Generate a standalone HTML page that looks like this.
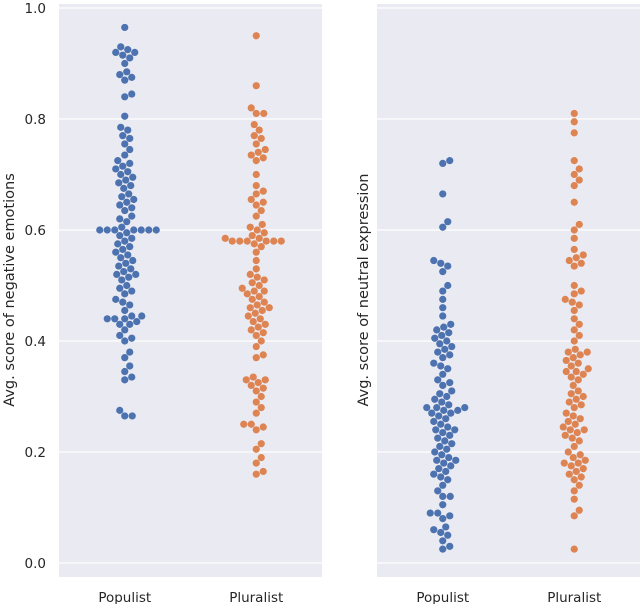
<!DOCTYPE html>
<html><head><meta charset="utf-8"><style>
body{margin:0;background:#fff;font-family:"Liberation Sans","DejaVu Sans",sans-serif}
svg text{font-family:"DejaVu Sans","Liberation Sans",sans-serif;fill:#262626}
</style></head><body>
<svg id="chart" width="640" height="604">
<g id="g"></g>
</svg>
<script>
const categories=["Populist","Pluralist"];
const yTicks=[0.0,0.2,0.4,0.6,0.8,1.0];
const negPopulist=[0.965,0.93,0.925,0.92,0.92,0.915,0.91,0.90,0.88,0.885,0.87,0.875,0.845,0.84,0.805,0.785,0.78,0.77,0.765,0.755,0.745,0.735,0.725,0.72,0.715,0.71,0.705,0.70,0.695,0.69,0.685,0.68,0.675,0.665,0.66,0.655,0.65,0.645,0.64,0.635,0.625,0.62,0.615,0.605,0.60,0.60,0.60,0.60,0.60,0.60,0.60,0.595,0.59,0.585,0.58,0.575,0.57,0.565,0.56,0.555,0.55,0.545,0.54,0.535,0.53,0.525,0.52,0.52,0.515,0.51,0.50,0.495,0.49,0.485,0.475,0.47,0.465,0.455,0.445,0.445,0.44,0.44,0.44,0.435,0.43,0.43,0.42,0.41,0.405,0.40,0.38,0.37,0.355,0.345,0.335,0.33,0.275,0.265,0.265];
const negPluralist=[0.95,0.86,0.82,0.81,0.81,0.79,0.78,0.77,0.765,0.755,0.745,0.74,0.735,0.73,0.725,0.70,0.68,0.67,0.665,0.655,0.65,0.645,0.635,0.625,0.61,0.605,0.60,0.595,0.59,0.585,0.585,0.58,0.58,0.58,0.58,0.58,0.58,0.575,0.57,0.56,0.545,0.53,0.52,0.515,0.51,0.505,0.50,0.495,0.49,0.49,0.485,0.48,0.475,0.47,0.465,0.46,0.46,0.455,0.45,0.445,0.44,0.435,0.43,0.425,0.42,0.415,0.41,0.40,0.39,0.375,0.37,0.335,0.33,0.33,0.325,0.32,0.315,0.31,0.30,0.29,0.28,0.27,0.25,0.25,0.245,0.24,0.215,0.205,0.19,0.18,0.165,0.16];
const neuPopulist=[0.725,0.72,0.665,0.615,0.605,0.545,0.54,0.535,0.525,0.5,0.49,0.475,0.46,0.445,0.43,0.425,0.42,0.415,0.41,0.405,0.40,0.395,0.39,0.385,0.38,0.375,0.37,0.36,0.355,0.35,0.34,0.33,0.325,0.32,0.31,0.305,0.30,0.295,0.29,0.285,0.28,0.28,0.28,0.275,0.275,0.27,0.27,0.265,0.26,0.255,0.25,0.245,0.24,0.24,0.235,0.23,0.225,0.22,0.215,0.21,0.205,0.20,0.195,0.19,0.185,0.185,0.18,0.175,0.17,0.165,0.16,0.155,0.15,0.14,0.13,0.12,0.12,0.105,0.09,0.09,0.085,0.08,0.065,0.06,0.055,0.05,0.04,0.03,0.025];
const neuPluralist=[0.81,0.795,0.775,0.725,0.71,0.70,0.69,0.68,0.65,0.61,0.60,0.585,0.565,0.555,0.55,0.545,0.54,0.535,0.50,0.49,0.485,0.475,0.47,0.465,0.455,0.44,0.43,0.42,0.41,0.40,0.385,0.38,0.38,0.375,0.37,0.365,0.36,0.355,0.35,0.345,0.345,0.34,0.335,0.33,0.32,0.31,0.305,0.30,0.295,0.29,0.285,0.28,0.27,0.265,0.26,0.255,0.25,0.245,0.24,0.24,0.235,0.23,0.225,0.22,0.21,0.2,0.195,0.19,0.185,0.18,0.18,0.175,0.17,0.165,0.16,0.155,0.15,0.14,0.13,0.115,0.095,0.085,0.025];

const NS="http://www.w3.org/2000/svg";
const g=document.getElementById('g');
function el(t,a){const e=document.createElementNS(NS,t);for(const k in a)e.setAttribute(k,a[k]);g.appendChild(e);return e;}
const y=v=>563-v*555;
const colors=["#4c72b0","#dd8452"];
const panels=[
 {x0:59,x1:322,title:"Avg. score of negative emotions",data:[negPopulist,negPluralist],ticks:true,lx:10,name:"left-panel"},
 {x0:377,x1:640,title:"Avg. score of neutral expression",data:[neuPopulist,neuPluralist],ticks:false,lx:364,name:"right-panel"}
];
const R=3.6;
function swarm(vals,cx){
 const placed=[];const sorted=[...vals].sort((a,b)=>a-b);
 for(const v of sorted){
  const py=y(v);let best=null;
  for(let k=0;k<80&&best===null;k++){
   const cands=k===0?[0]:[k*0.5,-k*0.5];
   for(const off of cands){
    const px=cx+off;
    let ok=true;
    for(const p of placed){const dx=p[0]-px,dy=p[1]-py;if(dx*dx+dy*dy<(2*R)*(2*R)-0.01){ok=false;break;}}
    if(ok){best=[px,py];break;}
   }
  }
  placed.push(best);
 }
 return placed;
}
panels.forEach((p,pi)=>{
 const bg=el('rect',{x:p.x0,y:4,width:p.x1-p.x0,height:573,fill:'#eaeaf2'});
 
 
 yTicks.forEach(t=>{
  const l=el('line',{x1:p.x0,x2:p.x1,y1:y(t),y2:y(t),stroke:'#fff','stroke-width':1.2});
  
  
  if(p.ticks){
   const tx=el('text',{x:46,y:y(t)+5,'text-anchor':'end','font-size':13.5});
   tx.textContent=t.toFixed(1);
   
   
  }
 });
 const w=p.x1-p.x0;
 categories.forEach((c,ci)=>{
  const cx=p.x0+w*(ci*2+1)/4;
  const lab=el('text',{x:cx,y:602,'text-anchor':'middle','font-size':13.5});
  lab.textContent=c;
  
  
  swarm(p.data[ci],cx).forEach(pt=>{
   const d=el('circle',{cx:pt[0],cy:pt[1],r:R,fill:colors[ci]});
   
   
  });
 });
 const yl=el('text',{x:0,y:0,'text-anchor':'middle','font-size':14.5,transform:`translate(${p.lx+4},290) rotate(-90)`});
 yl.textContent=p.title;
 
 
});
</script>
</body></html>
